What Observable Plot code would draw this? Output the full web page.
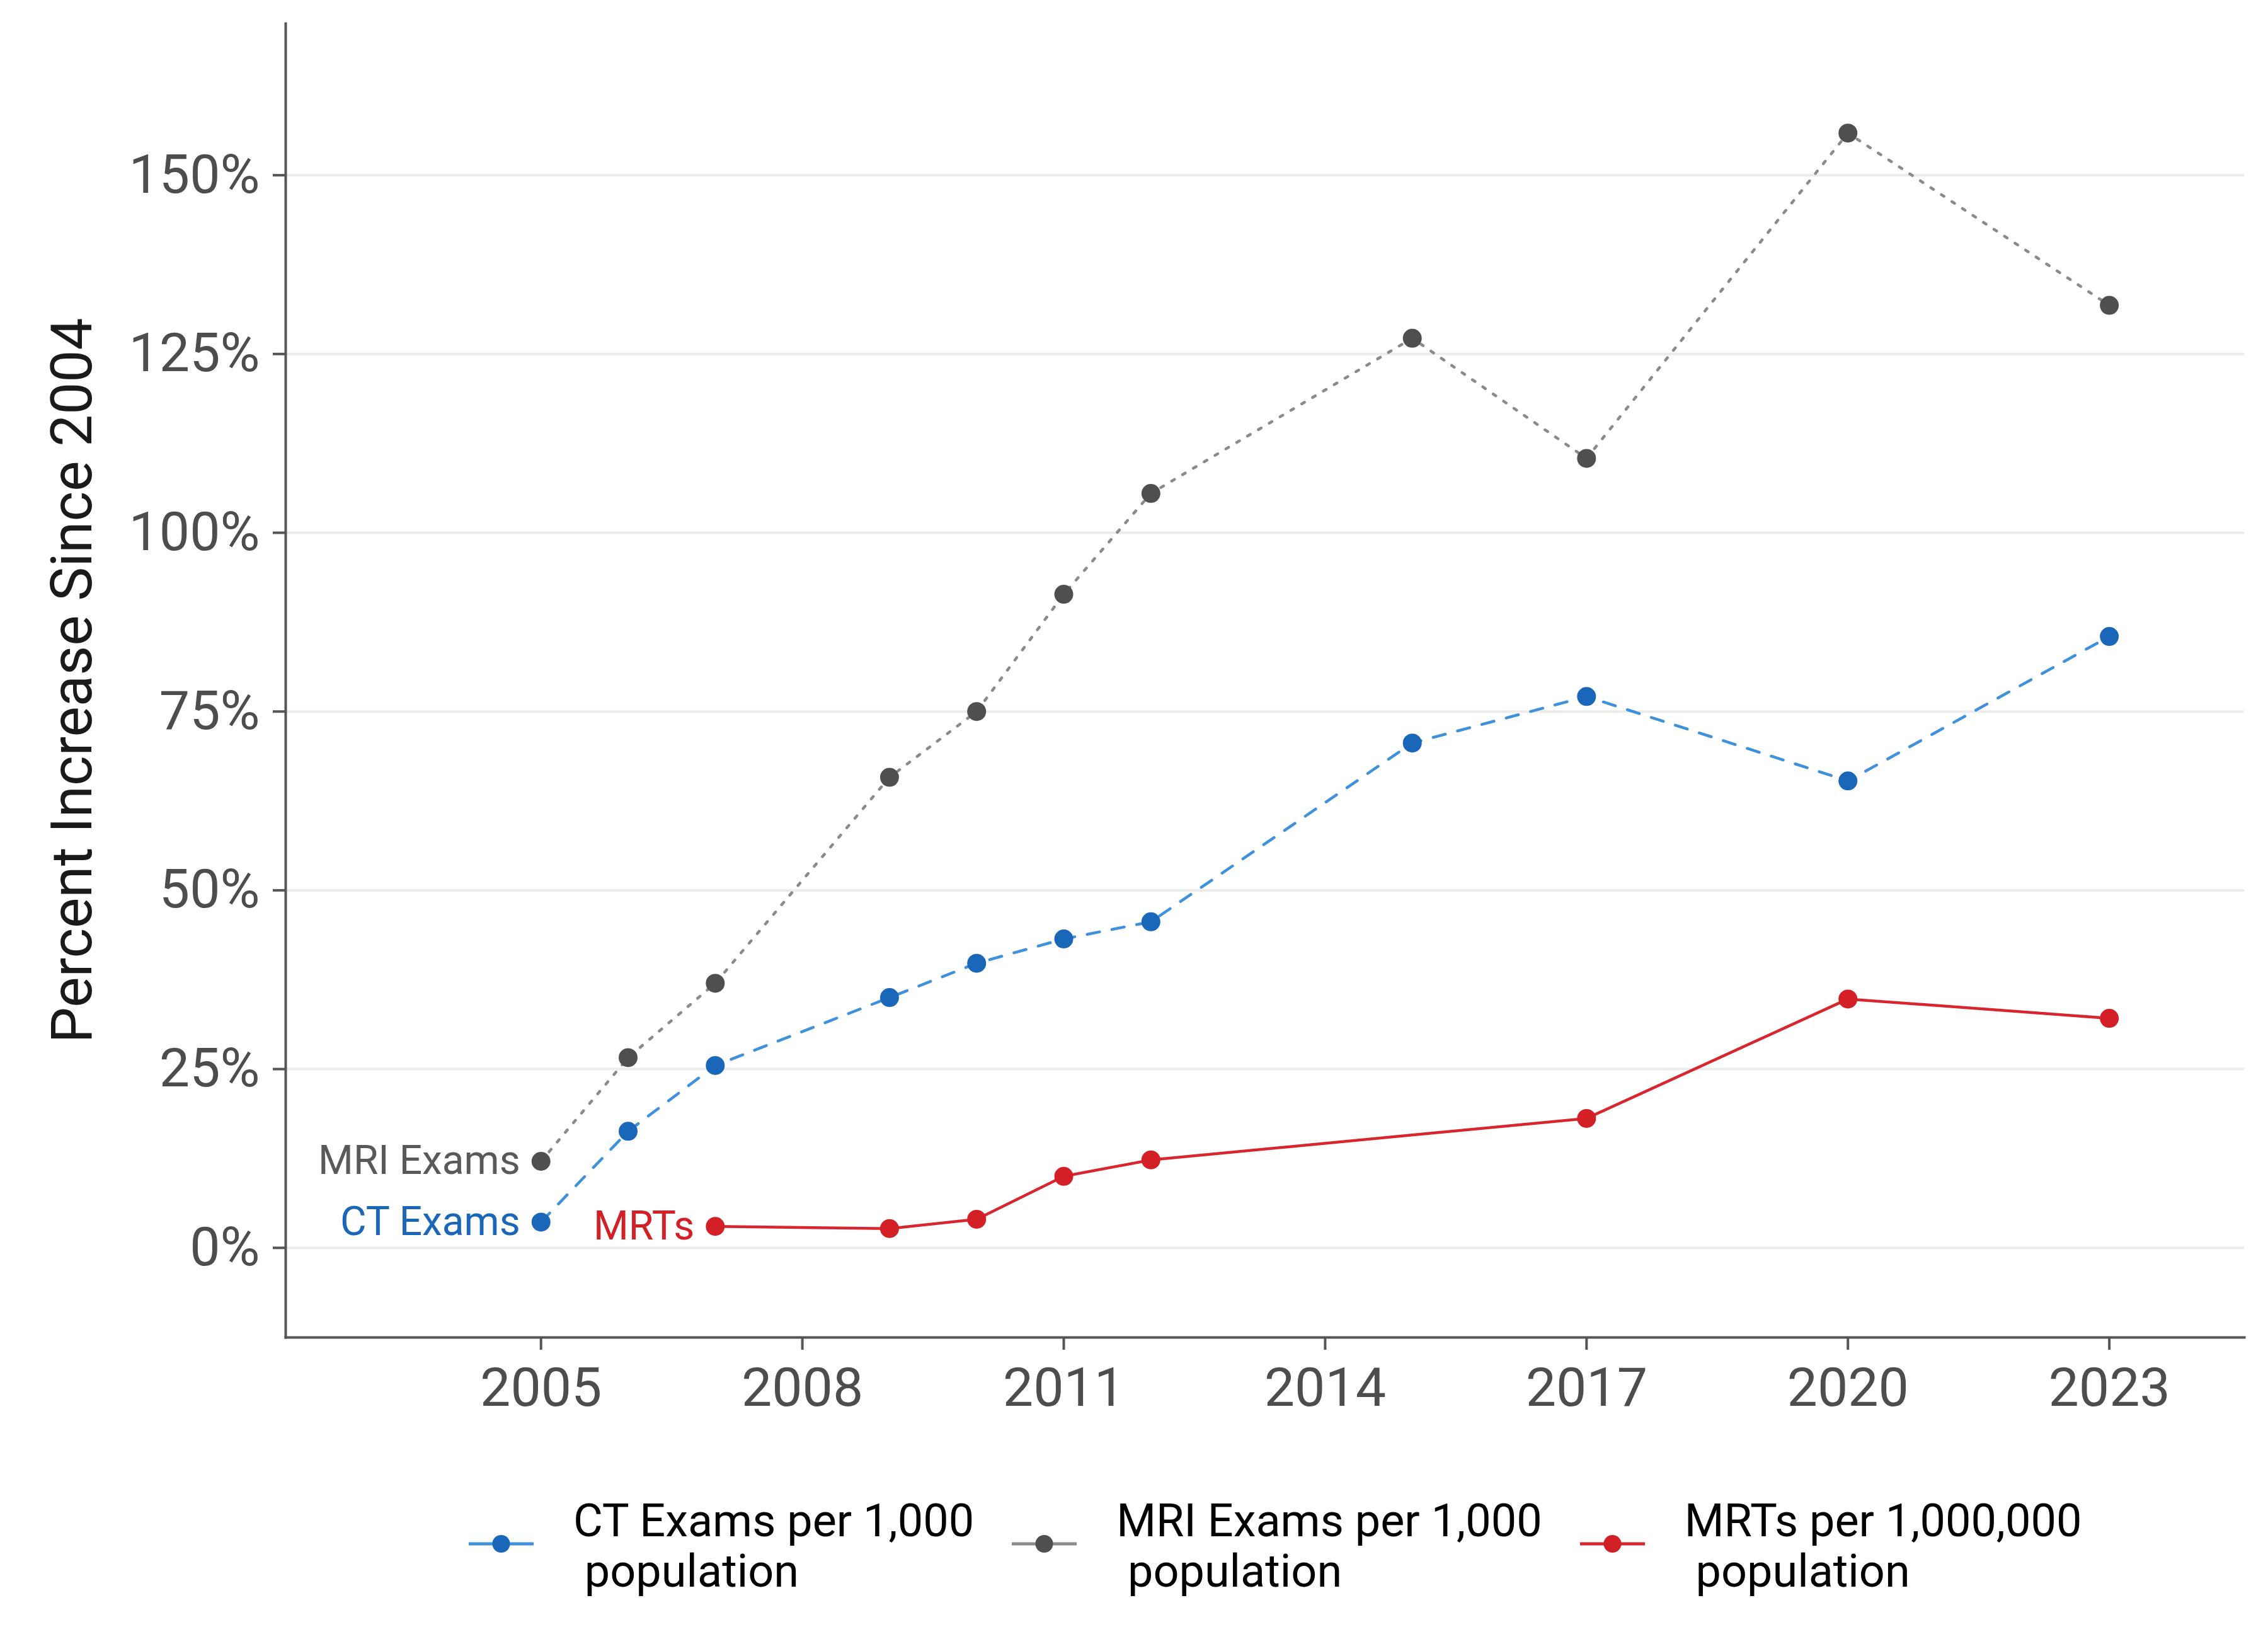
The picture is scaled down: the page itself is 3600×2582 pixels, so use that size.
<!DOCTYPE html>
<html><head><meta charset="utf-8">
<script src="https://cdn.jsdelivr.net/npm/d3@7"></script>
<script src="https://cdn.jsdelivr.net/npm/@observablehq/plot@0.6"></script>
<style>
html,body{margin:0;padding:0;background:#fff;}
body{width:3600px;height:2582px;overflow:hidden;font-family:Roboto,sans-serif;}
#chart svg{display:block;}
#legend{display:flex;align-items:flex-start;padding-left:744px;padding-top:44px;height:252px;box-sizing:border-box;}
.item{display:flex;align-items:flex-start;margin-right:60px;}
.item svg{display:block;flex:none;}
.lab{margin-left:63px;font-size:72px;line-height:80px;color:#000;white-space:pre;}
</style></head><body><div id="chart"></div><div id="legend"></div>
<script>
// Data
const seriesNames = ["CT Exams", "MRI Exams", "MRTs"];
const legendLabels = ["CT Exams per 1,000\n population", "MRI Exams per 1,000\n population", "MRTs per 1,000,000\n population"];
const pointColors = ["#1a66b9", "#4f4f4f", "#d32027"];
const lineColors = ["#3f91db", "#8a8a8a", "#d7262e"];
const dashes = ["20,20", "5,15", null];

const ctYears = [2005, 2006, 2007, 2009, 2010, 2011, 2012, 2015, 2017, 2020, 2023];
const ctValues = [3.6, 16.3, 25.5, 35.0, 39.8, 43.2, 45.6, 70.6, 77.1, 65.3, 85.5];
const mriYears = [2005, 2006, 2007, 2009, 2010, 2011, 2012, 2015, 2017, 2020, 2023];
const mriValues = [12.1, 26.6, 37.0, 65.8, 75.0, 91.4, 105.5, 127.2, 110.4, 155.9, 131.8];
const mrtYears = [2007, 2009, 2010, 2011, 2012, 2017, 2020, 2023];
const mrtValues = [3.0, 2.7, 4.0, 10.0, 12.3, 18.1, 34.8, 32.1];

const xTicks = [2005, 2008, 2011, 2014, 2017, 2020, 2023];
const yTicks = [0, 25, 50, 75, 100, 125, 150];
const xDomain = [2002.07, 2024.55];
const yDomain = [-12.53, 171.2];
const yTitle = "Percent Increase Since 2004";

const allYears = [ctYears, mriYears, mrtYears];
const allValues = [ctValues, mriValues, mrtValues];
const series = seriesNames.map((name, i) =>
  allYears[i].map((yr, j) => ({series: name, year: yr, value: allValues[i][j]})));

const marks = [
  Plot.gridY(yTicks, {stroke: "#ececec", strokeOpacity: 1, strokeWidth: 4}),
  Plot.frame({anchor: "left", stroke: "#555", strokeWidth: 4}),
  Plot.frame({anchor: "bottom", stroke: "#555", strokeWidth: 4}),
  Plot.axisX({ticks: xTicks, tickSize: 20, tickPadding: 27, fontSize: 86, tickFormat: d => String(d),
    stroke: "#555", strokeWidth: 4, fill: "#4d4d4d", label: null}),
  Plot.axisY({ticks: yTicks, tickSize: 20, tickPadding: 21, fontSize: 86, tickFormat: d => d + "%",
    stroke: "#555", strokeWidth: 4, fill: "#4d4d4d", label: null}),
  Plot.text([yTitle], {frameAnchor: "left", textAnchor: "middle", rotate: -90, dx: -338, fontSize: 91, fill: "#1a1a1a"})
];
series.forEach((data, i) => {
  marks.push(Plot.line(data, {x: "year", y: "value", stroke: lineColors[i], strokeWidth: 4.5,
    strokeDasharray: dashes[i] || undefined}));
});
series.forEach((data, i) => {
  marks.push(Plot.dot(data, {x: "year", y: "value", fill: pointColors[i], r: 15}));
  marks.push(Plot.text(data, Plot.selectFirst({x: "year", y: "value", text: "series", textAnchor: "end",
    dx: -33, fontSize: 64, fill: i === 1 ? "#595959" : pointColors[i]})));
});

const chart = Plot.plot({
  width: 3600, height: 2330,
  marginLeft: 453, marginRight: 38, marginTop: 37, marginBottom: 208,
  style: {fontFamily: "Roboto, sans-serif", background: "#fff"},
  x: {domain: xDomain},
  y: {domain: yDomain},
  marks
});
document.getElementById("chart").append(chart);

const legend = document.getElementById("legend");
seriesNames.forEach((name, i) => {
  const item = document.createElement("div");
  item.className = "item";
  item.innerHTML = `<svg width="103" height="160"><line x1="0" x2="103" y1="76" y2="76" stroke="${lineColors[i]}" stroke-width="5"/><circle cx="51.5" cy="76" r="14" fill="${pointColors[i]}"/></svg>`;
  const lab = document.createElement("div");
  lab.className = "lab";
  lab.textContent = legendLabels[i];
  item.append(lab);
  legend.append(item);
});
</script></body></html>
